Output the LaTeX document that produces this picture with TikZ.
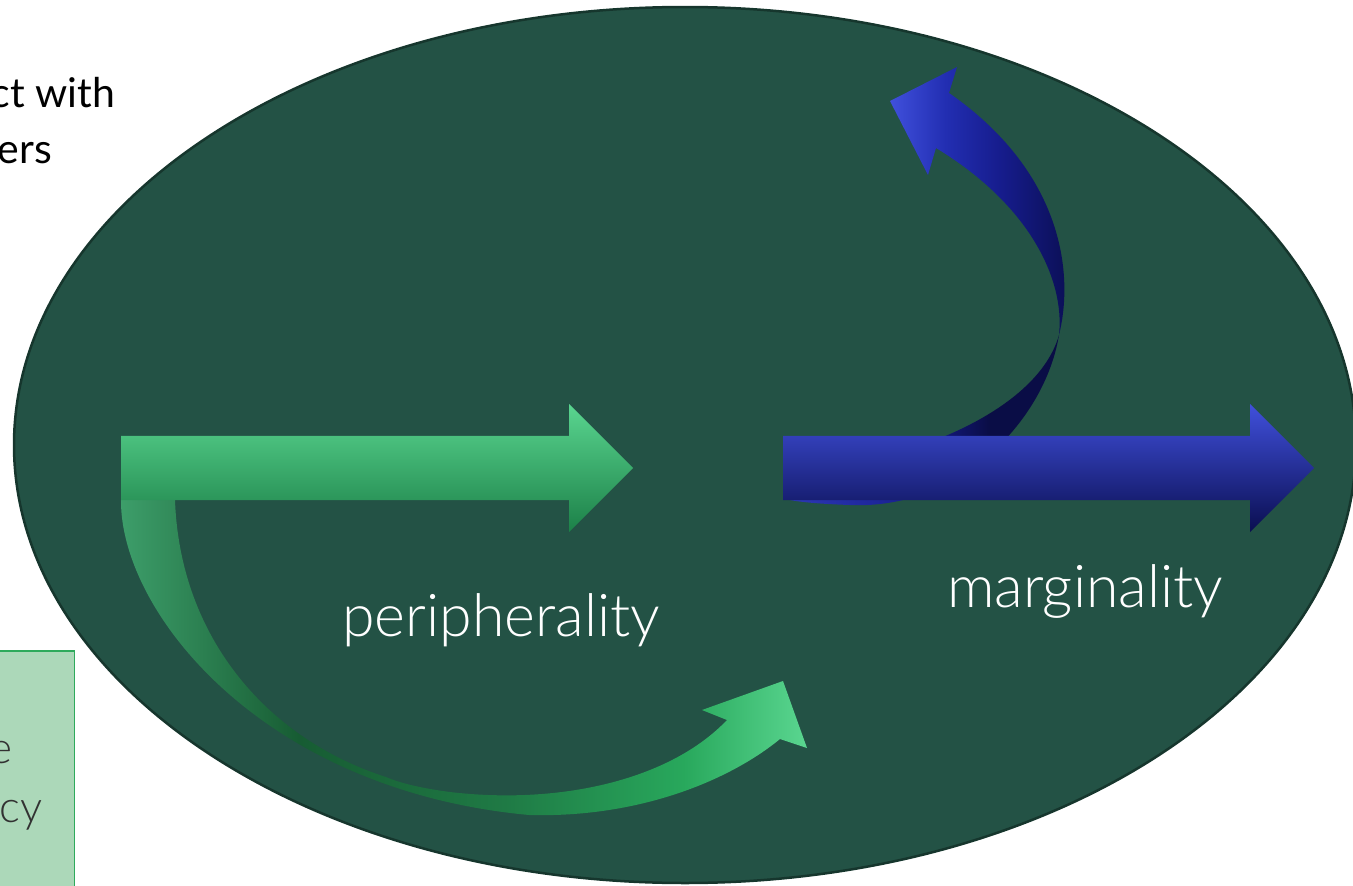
\documentclass[tikz,border=0pt]{standalone}
\usepackage{fontspec}
\setmainfont{Lato}
\newfontfamily\thinfont{Lato Light}
\usetikzlibrary{shapes.geometric,shapes.arrows}
\definecolor{fieldgreen}{RGB}{35,82,69}
\definecolor{fieldrim}{RGB}{22,54,45}
\definecolor{boxfill}{RGB}{172,216,185}
\definecolor{boxrim}{RGB}{46,170,92}
\definecolor{boxtext}{RGB}{50,50,50}
\definecolor{greenhi}{RGB}{90,214,144}
\definecolor{greenmid}{RGB}{42,170,96}
\definecolor{greenlo}{RGB}{28,128,72}
\definecolor{greensoft}{RGB}{61,158,106}
\definecolor{greendeep}{RGB}{23,92,51}
\definecolor{greenband}{RGB}{31,122,69}
\definecolor{greenrise}{RGB}{40,168,92}
\definecolor{bluehi}{RGB}{64,80,220}
\definecolor{bluemid}{RGB}{22,28,140}
\definecolor{bluelo}{RGB}{10,14,80}
\definecolor{bluehead}{RGB}{34,46,178}
\definecolor{bluedeep}{RGB}{10,13,70}
\definecolor{bluesliver}{RGB}{44,56,180}
% colour runs for the bent arrows
\pgfdeclarehorizontalshading{greenbend}{100bp}{color(0bp)=(greensoft); color(25bp)=(greensoft);
    color(38bp)=(greendeep); color(53bp)=(greenband); color(66bp)=(greenrise);
    color(75bp)=(greenhi); color(100bp)=(greenhi)}
\pgfdeclarehorizontalshading{bluetop}{100bp}{color(0bp)=(bluehi); color(25bp)=(bluehi);
    color(40bp)=(bluehead); color(55bp)=(bluemid); color(75bp)=(bluelo); color(100bp)=(bluelo)}
\pgfdeclarehorizontalshading{bluefoot}{100bp}{color(0bp)=(bluesliver); color(25bp)=(bluesliver);
    color(50bp)=(bluemid); color(62bp)=(bluedeep); color(75bp)=(bluedeep); color(100bp)=(bluedeep)}

\begin{document}
\begin{tikzpicture}[x=1pt,y=-1pt,
            field/.style = {ellipse, draw=fieldrim, line width=2.5pt, fill=fieldgreen,
                            minimum width=1342pt, minimum height=876pt, inner sep=0pt},
            flatarrow/.style = {single arrow, single arrow head extend=32pt,
                            inner xsep=0pt, inner ysep=32pt},
            label/.style = {text=white, font=\thinfont\fontsize{59}{64}\selectfont, inner sep=0pt},
            sidetext/.style = {font=\fontsize{41}{45}\selectfont, inner sep=0pt},
            boxtext/.style = {text=boxtext, font=\thinfont\fontsize{44}{48}\selectfont, inner sep=0pt}
            ]
            \useasboundingbox (0,0) rectangle (1353,886);
            % cut-off text on the left
            \node[sidetext, anchor=base east] (withline) at (115,107) {ct with};
            \node[sidetext, anchor=base east] (ersline) at (52,163) {ers};
            \node[draw=boxrim, line width=1.5pt, fill=boxfill, anchor=north east,
                  minimum width=120pt, minimum height=260pt] (notebox) at (75,650) {};
            \node[boxtext, anchor=base east] (eline) at (13,763) {e};
            \node[boxtext, anchor=base east] (cyline) at (43,822) {cy};
            % the field
            \node[field] (field) at (685,445) {};
            % curved arrows first, straight ones on top
            \shade[shading=greenbend]
                (121,500) .. controls (120,610) and (260,790) .. (529,815)
                .. controls (640,818) and (730,780) .. (780,739)
                -- (807,748) -- (783,681) -- (702,710) -- (727,720)
                .. controls (670,780) and (560,805) .. (450,792)
                .. controls (420,788) and (400,783) .. (386,777)
                .. controls (270,740) and (180,640) .. (175,500) -- cycle;
            \coordinate (twist) at (1059,335);
            \shade[shading=bluetop]
                (twist) .. controls (1075,270) and (1060,170) .. (949,93)
                -- (957,67) -- (890,101) -- (928,175) -- (936,148)
                .. controls (1030,205) and (1065,280) .. (twist) -- cycle;
            \shade[shading=bluefoot]
                (twist) .. controls (1045,420) and (960,510) .. (850,505)
                .. controls (820,504) and (800,502) .. (790,500)
                -- (790,470) .. controls (880,470) and (1035,420) .. (twist) -- cycle;
            \node[flatarrow, minimum height=512pt, anchor=tail, top color=greenhi,
                  middle color=greenmid, bottom color=greenlo] (periarrow) at (121,468) {};
            \node[flatarrow, minimum height=531pt, anchor=tail, top color=bluehi,
                  middle color=bluemid, bottom color=bluelo] (margarrow) at (783,468) {};
            \node[label, anchor=base] (peri) at (501,636) {peripherality};
            \node[label, anchor=base] (marg) at (1085,607) {marginality};
\end{tikzpicture}
\end{document}
